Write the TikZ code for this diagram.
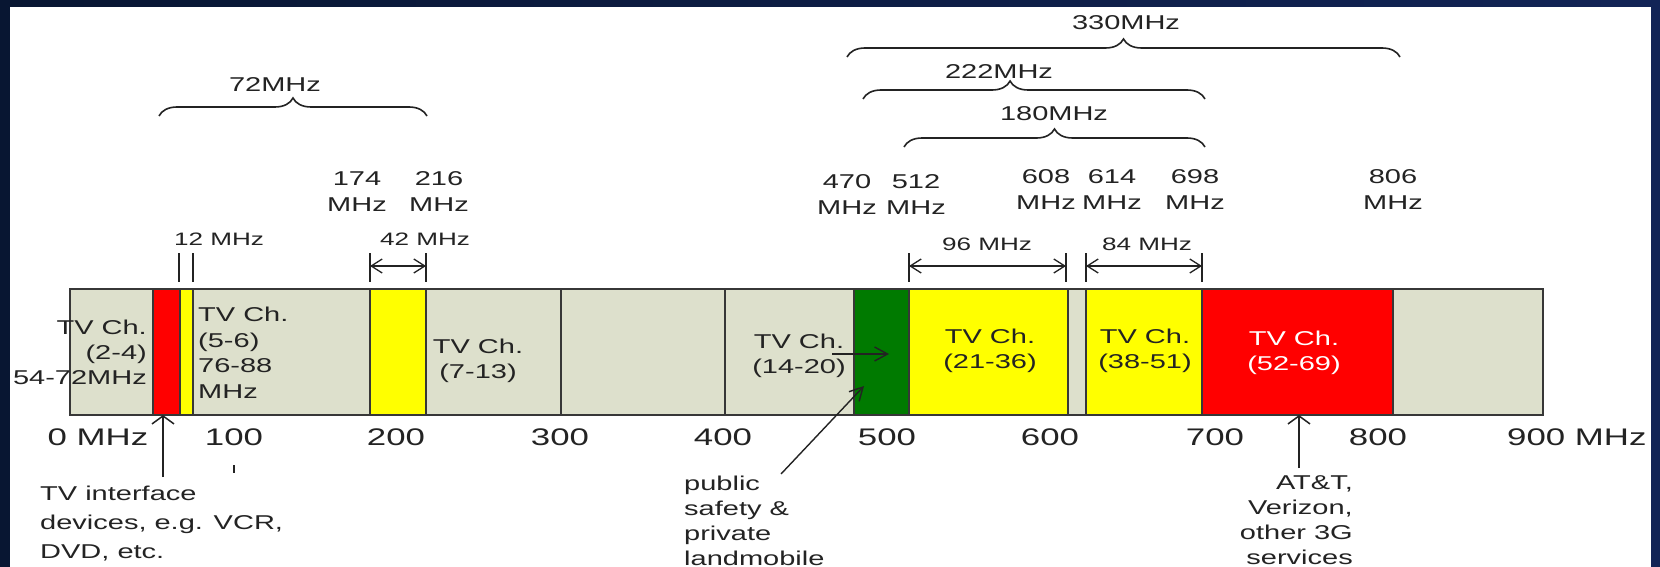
\documentclass[tikz,border=0pt]{standalone}
\usepackage{fontspec}
\setmainfont{Liberation Sans}[FakeStretch=1.45]
\usetikzlibrary{arrows.meta,decorations.pathreplacing}
\definecolor{bandgrey}{RGB}{221,224,204}
\definecolor{bandred}{RGB}{255,0,0}
\definecolor{bandyellow}{RGB}{255,255,0}
\definecolor{bandgreen}{RGB}{0,122,0}
\definecolor{edge}{RGB}{55,55,55}
\definecolor{ink}{RGB}{35,35,35}
\definecolor{bgleft}{RGB}{8,22,50}
\definecolor{bgright}{RGB}{18,36,86}
\begin{document}
\begin{tikzpicture}[x=1pt,y=-1pt,
  band/.style={draw=edge, line width=1.6pt},
  lbl/.style={font=\fontsize{20pt}{25pt}\selectfont, text=ink, inner sep=0pt, align=center},
  dimlbl/.style={font=\fontsize{18pt}{22pt}\selectfont, text=ink, inner sep=0pt},
  axislbl/.style={font=\fontsize{24pt}{28pt}\selectfont, text=ink, inner sep=0pt},
  brc/.style={draw=ink, line width=1.6pt, decorate, decoration={brace, amplitude=18pt, aspect=#1}},
  brc/.default=0.5,
  ext/.style={draw=ink, line width=2pt},
  dimarr/.style={draw=ink, line width=1.3pt, {Straight Barb[length=11pt,width=14pt]}-{Straight Barb[length=11pt,width=14pt]}},
  uparr/.style={draw=ink, line width=1.5pt, -{Straight Barb[length=8pt,width=22pt]}},
  ptarr/.style={draw=ink, line width=1.4pt, -{Straight Barb[length=13pt,width=14pt]}}
]
\useasboundingbox (0,0) rectangle (1660,567);
% background
\shade[left color=bgleft, right color=bgright] (0,0) rectangle (1660,567);
\fill[white] (10,7) rectangle (1651,567);
\begin{scope}
\clip (10,7) rectangle (1651,567);

% ---- bar ----
\draw[band, fill=bandgrey]   (70,289)   rectangle (153,415);
\draw[band, fill=bandred]    (153,289)  rectangle (180,415);
\draw[band, fill=bandyellow] (180,289)  rectangle (193,415);
\draw[band, fill=bandgrey]   (193,289)  rectangle (370,415);
\draw[band, fill=bandyellow] (370,289)  rectangle (426,415);
\draw[band, fill=bandgrey]   (426,289)  rectangle (561,415);
\draw[band, fill=bandgrey]   (561,289)  rectangle (725,415);
\draw[band, fill=bandgrey]   (725,289)  rectangle (854,415);
\draw[band, fill=bandgreen]  (854,289)  rectangle (909,415);
\draw[band, fill=bandyellow] (909,289)  rectangle (1068,415);
\draw[band, fill=bandgrey]   (1068,289) rectangle (1086,415);
\draw[band, fill=bandyellow] (1086,289) rectangle (1202,415);
\draw[band, fill=bandred]    (1202,289) rectangle (1393,415);
\draw[band, fill=bandgrey]   (1393,289) rectangle (1543,415);

% ---- labels inside bar ----
\node[lbl, anchor=east, align=right] (ch24) at (147,352) {TV Ch.\\(2-4)\\54-72MHz};
\node[lbl, anchor=west, align=left, font=\fontsize{20pt}{25.5pt}\selectfont] (ch56) at (198,353) {TV Ch.\\(5-6)\\76-88\\MHz};
\node[lbl] (ch713) at (478,361) {TV Ch.\\(7-13)};
\node[lbl] (ch1420) at (799,356) {TV Ch.\\(14-20)};
\node[lbl] (ch2136) at (990,351) {TV Ch.\\(21-36)};
\node[lbl] (ch3851) at (1145,351) {TV Ch.\\(38-51)};
\node[lbl, text=white] (ch5269) at (1294,353) {TV Ch.\\(52-69)};

% ---- axis labels ----
\node[axislbl] (ax0) at (98,437) {0 MHz};
\node[axislbl] (ax100) at (234,437) {100};
\node[axislbl] (ax200) at (396,437) {200};
\node[axislbl] (ax300) at (560,437) {300};
\node[axislbl] (ax400) at (723,437) {400};
\node[axislbl] (ax500) at (887,437) {500};
\node[axislbl] (ax600) at (1050,437) {600};
\node[axislbl] (ax700) at (1215,437) {700};
\node[axislbl] (ax800) at (1378,437) {800};
\node[axislbl, anchor=west] (ax900) at (1507,437) {900 MHz};
\draw[ink, line width=1.5pt] (234,465) -- (234,473);

% ---- annotations below ----
\node[lbl, anchor=west, align=left, font=\fontsize{20pt}{29pt}\selectfont] (tvi) at (40,524) {TV interface\\devices, e.g. VCR,\\DVD, etc.};
\coordinate (tviA) at (163,477);
\coordinate (tviB) at (163,415);
\draw[uparr] (tviA) -- (tviB);

\node[lbl, anchor=west, align=left] (pub) at (684,521) {public\\safety \&\\private\\landmobile};
\coordinate (pubA) at (781,474);
\coordinate (pubB) at (864,386);
\draw[ptarr] (pubA) -- (pubB);
\coordinate (tvA) at (832,354);
\coordinate (tvB) at (889,354);
\draw[ptarr] (tvA) -- (tvB);

\node[lbl, anchor=east, align=right] (att) at (1353,520) {AT\&T,\\Verizon,\\other 3G\\services};
\coordinate (attA) at (1299,468);
\coordinate (attB) at (1299,415);
\draw[uparr] (attA) -- (attB);

% ---- frequency labels above ----
\node[lbl, font=\fontsize{20pt}{26pt}\selectfont] (f174) at (357,192) {174\\MHz};
\node[lbl, font=\fontsize{20pt}{26pt}\selectfont] (f216) at (439,192) {216\\MHz};
\node[lbl, font=\fontsize{20pt}{26pt}\selectfont] (f470) at (847,195) {470\\MHz};
\node[lbl, font=\fontsize{20pt}{26pt}\selectfont] (f512) at (916,195) {512\\MHz};
\node[lbl, font=\fontsize{20pt}{26pt}\selectfont] (f608) at (1046,190) {608\\MHz};
\node[lbl, font=\fontsize{20pt}{26pt}\selectfont] (f614) at (1112,190) {614\\MHz};
\node[lbl, font=\fontsize{20pt}{26pt}\selectfont] (f698) at (1195,190) {698\\MHz};
\node[lbl, font=\fontsize{20pt}{26pt}\selectfont] (f806) at (1393,190) {806\\MHz};

% ---- dimension marks ----
\node[dimlbl] (d12) at (219,239) {12 MHz};
\draw[ext] (179,253) -- (179,282);
\draw[ext] (193,253) -- (193,282);

\node[dimlbl] (d42) at (425,239) {42 MHz};
\coordinate (d42a) at (370,253); \coordinate (d42b) at (370,282);
\coordinate (d42c) at (426,253); \coordinate (d42d) at (426,282);
\draw[ext] (d42a) -- (d42b);
\draw[ext] (d42c) -- (d42d);
\coordinate (d42l) at (370,266); \coordinate (d42r) at (426,266);
\draw[dimarr] (d42l) -- (d42r);

\node[dimlbl] (d96) at (987,244) {96 MHz};
\draw[ext] (909,253) -- (909,282);
\draw[ext] (1066,253) -- (1066,282);
\coordinate (d96l) at (909,266); \coordinate (d96r) at (1066,266);
\draw[dimarr] (d96l) -- (d96r);

\node[dimlbl] (d84) at (1147,244) {84 MHz};
\draw[ext] (1086,253) -- (1086,282);
\draw[ext] (1202,253) -- (1202,282);
\coordinate (d84l) at (1086,266); \coordinate (d84r) at (1202,266);
\draw[dimarr] (d84l) -- (d84r);

% ---- braces ----
\node[lbl] (b72) at (275,85) {72MHz};
\coordinate (b72l) at (159,116); \coordinate (b72r) at (427,116);
\draw[brc] (b72l) -- (b72r);

\node[lbl] (b330) at (1126,23) {330MHz};
\coordinate (b330l) at (847,57); \coordinate (b330r) at (1400,57);
\draw[brc] (b330l) -- (b330r);

\node[lbl] (b222) at (999,72) {222MHz};
\coordinate (b222l) at (863,99); \coordinate (b222r) at (1205,99);
\draw[brc=0.43] (b222l) -- (b222r);

\node[lbl] (b180) at (1054,114) {180MHz};
\coordinate (b180l) at (904,147); \coordinate (b180r) at (1205,147);
\draw[brc] (b180l) -- (b180r);
\end{scope}
\end{tikzpicture}
\end{document}
